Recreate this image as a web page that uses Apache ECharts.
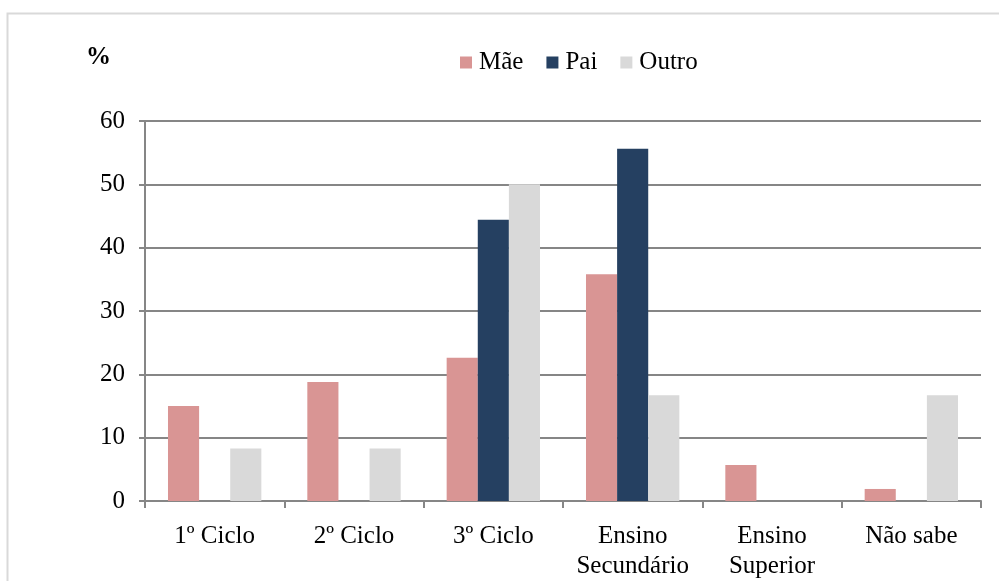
<!DOCTYPE html>
<html>
<head>
<meta charset="utf-8">
<script src="https://cdn.jsdelivr.net/npm/echarts@6/dist/echarts.min.js"></script>
<style>
  html, body { margin: 0; padding: 0; background: #fff; }
  #chart { width: 999px; height: 581px; }
</style>
</head>
<body>
<div id="chart"></div>
<script>
// categorias do eixo x
const categories = ['1º Ciclo', '2º Ciclo', '3º Ciclo', 'Ensino\nSecundário', 'Ensino\nSuperior', 'Não sabe']
const seriesNames = ['Mãe', 'Pai', 'Outro']
const maeValues = [15.0, 18.8, 22.6, 35.8, 5.7, 1.9]
const paiValues = [0, 0, 44.4, 55.6, 0, 0]
const outroValues = [8.3, 8.3, 50.0, 16.7, 0, 16.7]
const colors = ['#d99594', '#254061', '#d9d9d9']

const font = '"Liberation Serif", "Times New Roman", serif'
const chart = echarts.init(document.getElementById('chart'))

chart.setOption({
  animation: false,
  textStyle: { fontFamily: font },
  graphic: [
    {
      type: 'polyline',
      shape: { points: [[7.5, 600], [7.5, 13.5], [999, 13.5]] },
      style: { stroke: '#d9d9d9', lineWidth: 2, fill: null }
    },
    {
      type: 'text',
      left: 86,
      top: 45,
      style: { text: '%', font: 'bold 25px ' + font, fill: '#000' }
    }
  ],
  legend: {
    data: seriesNames,
    top: 45,
    left: 455,
    itemWidth: 12,
    itemHeight: 12,
    itemGap: 23,
    icon: 'rect',
    textStyle: { fontSize: 25, color: '#000', fontFamily: font, padding: [0, 0, 0, 2] }
  },
  grid: { left: 145, right: 18, top: 121, bottom: 76, containLabel: false },
  xAxis: {
    type: 'category',
    data: categories,
    axisLine: { lineStyle: { color: '#868686', width: 2 } },
    axisTick: { show: true, length: 7, lineStyle: { color: '#868686', width: 2 } },
    axisLabel: { fontSize: 25, color: '#000', fontFamily: font, margin: 20, lineHeight: 30, interval: 0 }
  },
  yAxis: {
    type: 'value',
    min: 0,
    max: 60,
    interval: 10,
    axisLine: { show: true, lineStyle: { color: '#868686', width: 2 } },
    axisTick: { show: true, length: 6, lineStyle: { color: '#868686', width: 2 } },
    splitLine: { lineStyle: { color: '#868686', width: 2 } },
    axisLabel: { fontSize: 25, color: '#000', fontFamily: font, margin: 20 }
  },
  series: [
    { name: 'Mãe', type: 'bar', data: maeValues, itemStyle: { color: colors[0] }, barGap: '0%', barCategoryGap: '33%' },
    { name: 'Pai', type: 'bar', data: paiValues, itemStyle: { color: colors[1] } },
    { name: 'Outro', type: 'bar', data: outroValues, itemStyle: { color: colors[2] } }
  ]
})
</script>
</body>
</html>
